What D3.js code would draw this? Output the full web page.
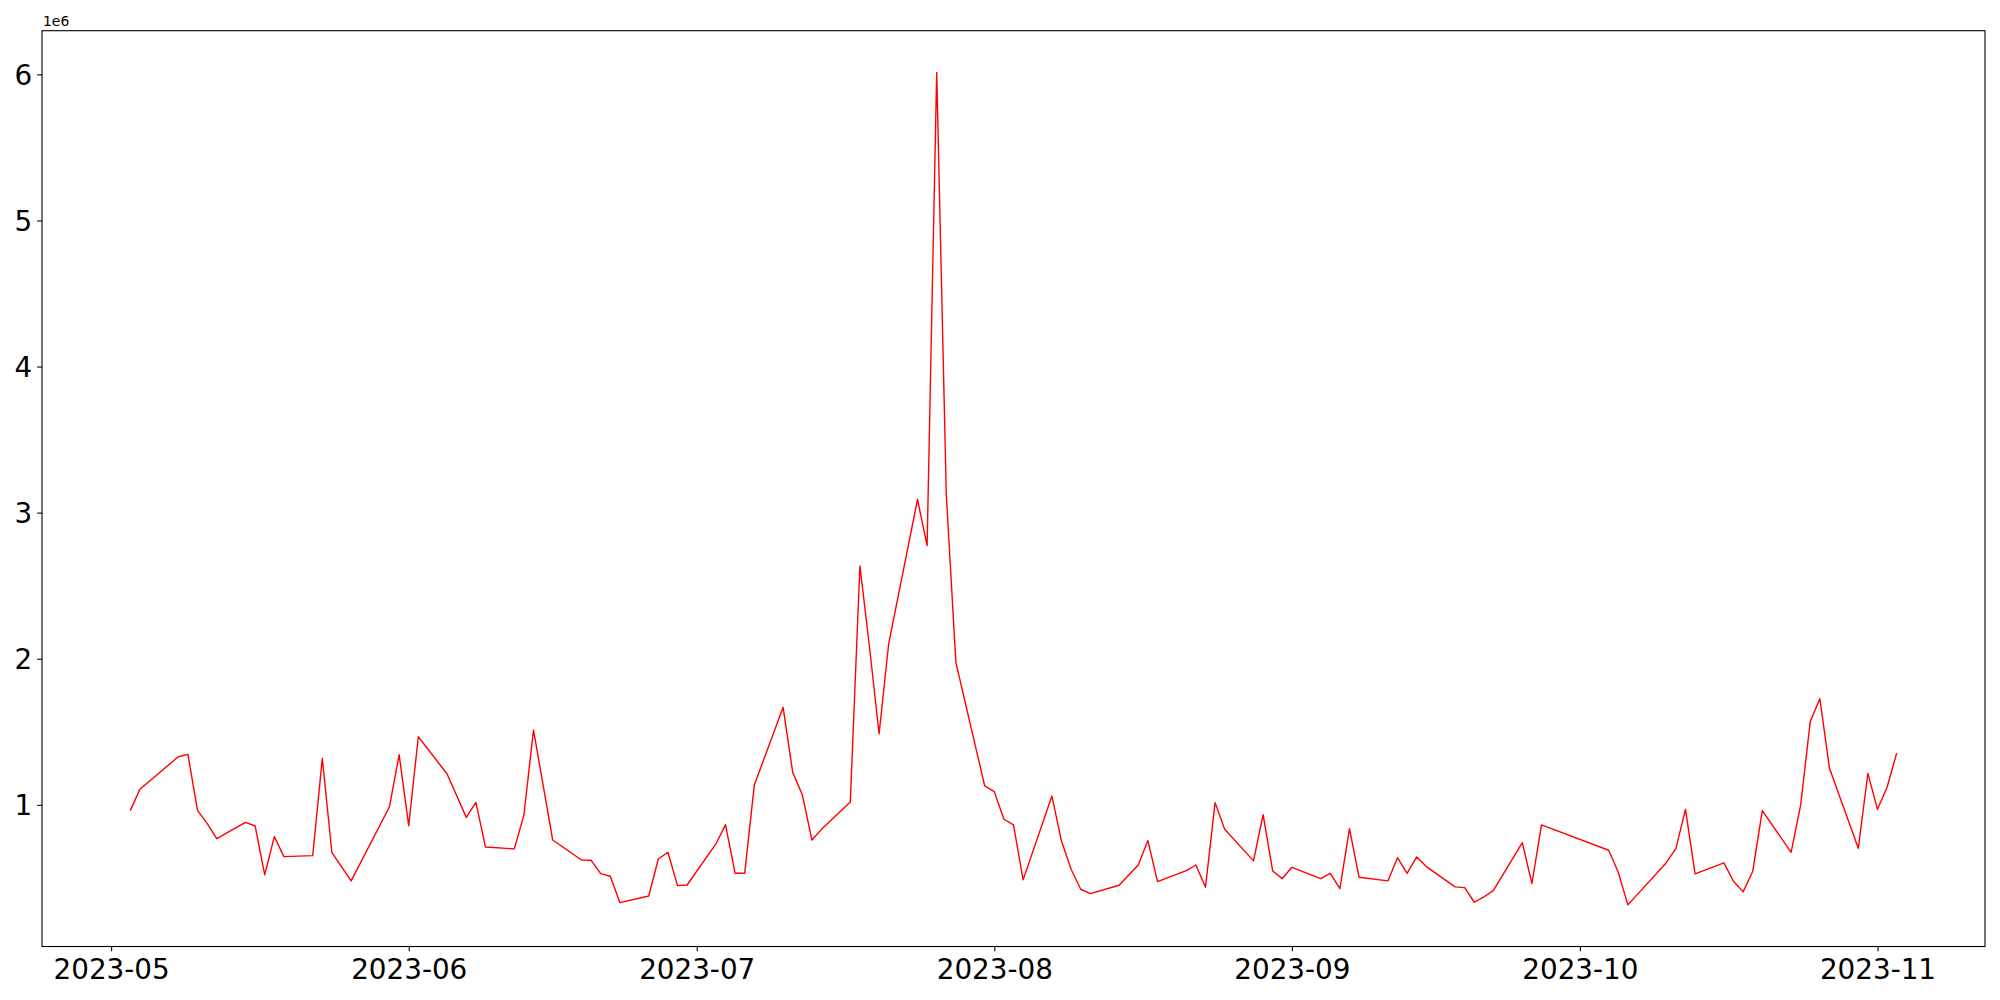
<!DOCTYPE html>
<html><head><meta charset="utf-8">
<script src="https://cdn.jsdelivr.net/npm/d3@7"></script>
<style>body{margin:0;background:#fff}</style>
</head><body>
<svg id="c" width="2000" height="1000"></svg>
<script>
const dates = [
"2023-05-03","2023-05-04","2023-05-08","2023-05-09","2023-05-10","2023-05-11","2023-05-12",
"2023-05-15","2023-05-16","2023-05-17","2023-05-18","2023-05-19","2023-05-22","2023-05-23",
"2023-05-24","2023-05-26","2023-05-30","2023-05-31","2023-06-01","2023-06-02","2023-06-05",
"2023-06-07","2023-06-08","2023-06-09","2023-06-12","2023-06-13","2023-06-14","2023-06-16",
"2023-06-19","2023-06-20","2023-06-21","2023-06-22","2023-06-23","2023-06-26","2023-06-27",
"2023-06-28","2023-06-29","2023-06-30","2023-07-03","2023-07-04","2023-07-05","2023-07-06",
"2023-07-07","2023-07-10","2023-07-11","2023-07-12","2023-07-13","2023-07-14","2023-07-17",
"2023-07-18","2023-07-19","2023-07-20","2023-07-21","2023-07-24","2023-07-25","2023-07-26",
"2023-07-27","2023-07-28","2023-07-31","2023-08-01","2023-08-02","2023-08-03","2023-08-04",
"2023-08-07","2023-08-08","2023-08-09","2023-08-10","2023-08-11","2023-08-14","2023-08-16",
"2023-08-17","2023-08-18","2023-08-21","2023-08-22","2023-08-23","2023-08-24","2023-08-25",
"2023-08-28","2023-08-29","2023-08-30","2023-08-31","2023-09-01","2023-09-04","2023-09-05",
"2023-09-06","2023-09-07","2023-09-08","2023-09-11","2023-09-12","2023-09-13","2023-09-14",
"2023-09-15","2023-09-18","2023-09-19","2023-09-20","2023-09-21","2023-09-22","2023-09-25",
"2023-09-26","2023-09-27","2023-10-04","2023-10-05","2023-10-06","2023-10-10","2023-10-11",
"2023-10-12","2023-10-13","2023-10-16","2023-10-17","2023-10-18","2023-10-19","2023-10-20",
"2023-10-23","2023-10-24","2023-10-25","2023-10-26","2023-10-27","2023-10-30","2023-10-31",
"2023-11-01","2023-11-02","2023-11-03"
];
const values = [
960000,1106000,1329000,1345000,962000,873000,768000,
880000,855000,520000,782000,645000,652000,1318000,
672000,479000,987000,1343000,857000,1466000,1211000,
914000,1017000,711000,698000,930000,1512000,759000,
622000,620000,529000,511000,330000,376000,629000,
675000,447000,451000,732000,864000,531000,531000,
1135000,1667000,1222000,1069000,759000,832000,1020000,
2635000,2080000,1486000,2104000,3090000,2774000,6014000,
3122000,1973000,1130000,1090000,901000,862000,486000,
1060000,752000,559000,422000,392000,449000,588000,
755000,474000,549000,588000,436000,1015000,832000,
616000,932000,547000,495000,572000,495000,531000,
426000,837000,504000,479000,638000,531000,643000,
577000,438000,433000,333000,369000,414000,741000,
461000,862000,689000,538000,315000,604000,700000,
969000,527000,602000,477000,404000,543000,960000,
675000,999000,1571000,1726000,1250000,702000,1215000,
969000,1120000,1354000
];
const xTickDates = ["2023-05-01","2023-06-01","2023-07-01","2023-08-01","2023-09-01","2023-10-01","2023-11-01"];
const xTickLabels = ["2023-05","2023-06","2023-07","2023-08","2023-09","2023-10","2023-11"];
const yTickValues = [1000000,2000000,3000000,4000000,5000000,6000000];
const yTickLabels = ["1","2","3","4","5","6"];
const offsetLabel = "1e6";

const plot = {left:42, right:1985, top:30.7, bottom:946.5};
const font = "DejaVu Sans";
const parse = d3.utcParse("%Y-%m-%d");
const xd = dates.map(parse);
const data = xd.map((d,i)=>({d, v:values[i]}));

const [dmin, dmax] = d3.extent(xd);
const dpad = (dmax - dmin) * 0.05;
const x = d3.scaleUtc().domain([new Date(+dmin - dpad), new Date(+dmax + dpad)]).range([plot.left, plot.right]);
const [vmin, vmax] = d3.extent(values);
const vpad = (vmax - vmin) * 0.05;
const y = d3.scaleLinear().domain([vmin - vpad, vmax + vpad]).range([plot.bottom, plot.top]);

const svg = d3.select("#c");
svg.append("rect").attr("width",2000).attr("height",1000).attr("fill","#fff");

svg.append("path").datum(data)
  .attr("fill","none").attr("stroke","#ff0000").attr("stroke-width",1.4)
  .attr("stroke-linejoin","round")
  .attr("d", d3.line().x(p=>x(p.d)).y(p=>y(p.v)));

const tick = 4.86;
const gx = svg.append("g").attr("transform",`translate(0,${plot.bottom})`)
  .call(d3.axisBottom(x).tickValues(xTickDates.map(parse)).tickFormat((d,i)=>xTickLabels[i])
        .tickSize(tick).tickPadding(tick).tickSizeOuter(0));
gx.select(".domain").remove();
gx.selectAll("line").attr("stroke","#000").attr("stroke-width",1.1);
gx.selectAll("text").attr("font-family",font).attr("font-size",27.8).attr("fill","#000")
  .attr("y",32.7).attr("dy",null);

const gy = svg.append("g").attr("transform",`translate(${plot.left},0)`)
  .call(d3.axisLeft(y).tickValues(yTickValues).tickFormat((d,i)=>yTickLabels[i])
        .tickSize(tick).tickPadding(tick).tickSizeOuter(0));
gy.select(".domain").remove();
gy.selectAll("line").attr("stroke","#000").attr("stroke-width",1.1);
gy.selectAll("text").attr("font-family",font).attr("font-size",27.8).attr("fill","#000")
  .attr("dy","0.36em");

svg.append("rect").attr("x",plot.left).attr("y",plot.top)
  .attr("width",plot.right-plot.left).attr("height",plot.bottom-plot.top)
  .attr("fill","none").attr("stroke","#000").attr("stroke-width",1.1);

svg.append("text").attr("x",plot.left+1).attr("y",26).attr("font-family",font)
  .attr("font-size",13.9).attr("fill","#000").text(offsetLabel);
</script>
</body></html>
